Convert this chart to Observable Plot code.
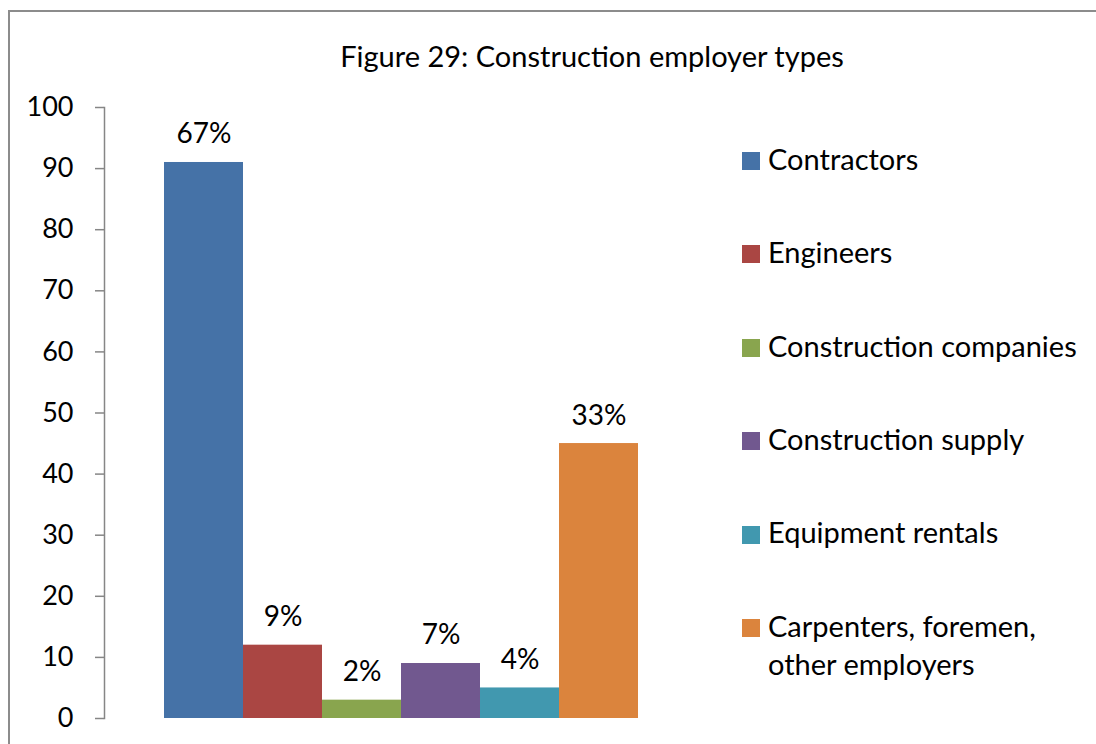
<!DOCTYPE html>
<html>
<head>
<meta charset="utf-8">
<script src="https://cdn.jsdelivr.net/npm/d3@7"></script>
<script src="https://cdn.jsdelivr.net/npm/@observablehq/plot@0.6"></script>
<style>
  html, body { margin: 0; padding: 0; background: #fff; }
  body { width: 1096px; height: 744px; position: relative; overflow: hidden; font-family: Lato, "Open Sans", sans-serif; }
  #frame { position: absolute; left: 8px; top: 10px; width: 1200px; height: 800px; border: 2px solid #8c8c8c; box-sizing: border-box; }
  #title { position: absolute; left: 592px; top: 39.4px; transform: translateX(-50%); font-size: 29px; line-height: 34.8px; white-space: nowrap; color: #000; }
  #chart { position: absolute; left: 0; top: 0; }
  .item { position: absolute; left: 742px; display: flex; align-items: flex-start; font-size: 29px; line-height: 38px; color: #000; white-space: pre-line; }
  .sw { width: 18px; height: 18px; margin-top: 12.2px; margin-right: 8px; flex: none; }
</style>
</head>
<body>
<div id="frame"></div>
<div id="title"></div>
<div id="chart"></div>
<div id="legend"></div>
<script>
const titleText = "Figure 29: Construction employer types";
const categories = ["Contractors", "Engineers", "Construction companies", "Construction supply", "Equipment rentals", "Carpenters, foremen, other employers"];
const legendLabels = ["Contractors", "Engineers", "Construction companies", "Construction supply", "Equipment rentals", "Carpenters, foremen,\nother employers"];
const values = [91, 12, 3, 9, 5, 45];
const valueLabels = ["67%", "9%", "2%", "7%", "4%", "33%"];
const colors = ["#4572A7", "#AA4643", "#89A54E", "#71588F", "#4198AF", "#DB843D"];
const yTicks = [0, 10, 20, 30, 40, 50, 60, 70, 80, 90, 100];

document.getElementById("title").textContent = titleText;

const data = categories.map((c, i) => ({category: c, value: values[i], label: valueLabels[i]}));

const chart = Plot.plot({
  width: 1096,
  height: 744,
  marginLeft: 104,
  marginRight: 399,
  marginTop: 107,
  marginBottom: 26,
  style: {fontFamily: "Lato, 'Open Sans', sans-serif", fontSize: "27px", background: "transparent", overflow: "visible"},
  x: {type: "band", domain: categories, padding: 0, insetLeft: 59, insetRight: 59, axis: null},
  y: {domain: [0, 100], axis: null},
  color: {domain: categories, range: colors},
  marks: [
    Plot.barY(data, {x: "category", y: "value", fill: "category"}),
    Plot.frame({anchor: "left", stroke: "#868686", strokeWidth: 1.5}),
    Plot.axisY({ticks: yTicks, tickSize: 9, tickPadding: 22, stroke: "#868686", strokeWidth: 1.5, fill: "#000", label: null, fontSize: 27}),
    Plot.text(data, {x: "category", y: "value", text: "label", dy: -28, fill: "#000", fontSize: 28})
  ]
});
document.getElementById("chart").appendChild(chart);

const legend = document.getElementById("legend");
legendLabels.forEach((lab, i) => {
  const item = document.createElement("div");
  item.className = "item";
  item.style.top = (169 + i * 93.4 - 29.2) + "px";
  const sw = document.createElement("div");
  sw.className = "sw";
  sw.style.background = colors[i];
  const t = document.createElement("div");
  t.textContent = lab;
  item.appendChild(sw);
  item.appendChild(t);
  legend.appendChild(item);
});
</script>
</body>
</html>
